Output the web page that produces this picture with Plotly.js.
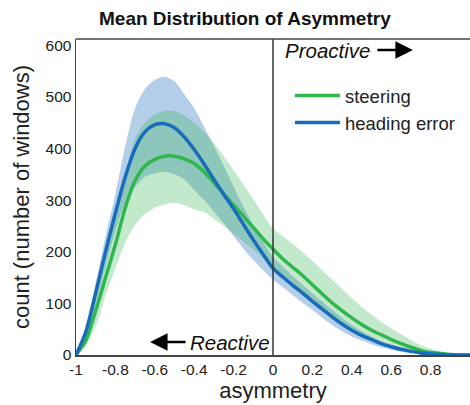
<!DOCTYPE html>
<html>
<head>
<meta charset="utf-8">
<script src="https://cdn.plot.ly/plotly-3.0.1.min.js"></script>
<style>html,body{margin:0;padding:0;background:#fff;}#chart{width:470px;height:405px;}</style>
</head>
<body>
<div id="chart"></div>
<script>
const asymmetry = [-1.00,-0.95,-0.90,-0.85,-0.80,-0.75,-0.70,-0.65,-0.60,-0.55,-0.50,-0.45,-0.40,-0.35,-0.30,-0.25,-0.20,-0.15,-0.10,-0.05,0.00,0.05,0.10,0.15,0.20,0.25,0.30,0.35,0.40,0.45,0.50,0.55,0.60,0.65,0.70,0.75,0.80,0.85,0.90,0.95,1.00];

const steeringMean  = [0,28,86,150,214,285,338,366,379,385,385,380,371,355,334,312,290,269,247,225,205,186,170,154,136,118,101,86,72,59,48,39,30,22,15,9,5,3,1,0,0];
const steeringUpper = [0,35,105,185,265,345,420,450,466,473,472,464,450,432,410,385,358,330,302,272,245,230,215,199,182,164,146,128,110,93,78,64,52,40,29,19,12,7,3,1,0];
const steeringLower = [0,18,55,115,168,218,252,273,285,292,295,290,282,277,264,250,235,220,204,187,170,152,137,123,106,89,73,59,47,37,28,21,15,10,6,3,1,0,0,0,0];

const headingMean  = [0,45,120,200,275,345,400,432,446,448,440,422,398,370,340,311,283,253,223,195,168,151,135,120,104,89,74,60,48,38,30,22,16,11,7,4,2,1,0,0,0];
const headingUpper = [0,55,140,230,312,405,478,515,533,539,530,505,478,442,405,366,326,287,251,219,190,171,153,136,119,103,87,72,58,46,36,27,20,14,9,5,3,1,0,0,0];
const headingLower = [0,35,100,170,240,295,325,345,352,355,350,340,320,300,278,255,230,206,184,164,146,131,116,101,87,72,58,46,36,28,21,15,10,6,4,2,1,0,0,0,0];

const xTicks = [-1,-0.8,-0.6,-0.4,-0.2,0,0.2,0.4,0.6,0.8,1];
const xTickText = ['-1','-0.8','-0.6','-0.4','-0.2','0','0.2','0.4','0.6','0.8','1'];
const yTicks = [0,100,200,300,400,500,600];

const FONT = 'Liberation Sans, Arial, Helvetica, sans-serif';
const BLUE = 'rgb(24,108,186)';
const GREEN = 'rgb(48,182,76)';
const BLUE_FILL = 'rgba(30,110,190,0.33)';
const GREEN_FILL = 'rgba(45,180,75,0.29)';

const traces = [
  {x: asymmetry, y: headingLower, mode: 'lines', line: {width: 0, shape: 'spline', smoothing: 0.8}, showlegend: false, hoverinfo: 'skip'},
  {x: asymmetry, y: headingUpper, mode: 'lines', line: {width: 0, shape: 'spline', smoothing: 0.8}, fill: 'tonexty', fillcolor: BLUE_FILL, showlegend: false, hoverinfo: 'skip'},
  {x: asymmetry, y: steeringLower, mode: 'lines', line: {width: 0, shape: 'spline', smoothing: 0.8}, showlegend: false, hoverinfo: 'skip'},
  {x: asymmetry, y: steeringUpper, mode: 'lines', line: {width: 0, shape: 'spline', smoothing: 0.8}, fill: 'tonexty', fillcolor: GREEN_FILL, showlegend: false, hoverinfo: 'skip'},
  {x: asymmetry, y: steeringMean, mode: 'lines', name: 'steering', line: {color: GREEN, width: 3.5, shape: 'spline', smoothing: 0.8}},
  {x: asymmetry, y: headingMean, mode: 'lines', name: 'heading error', line: {color: BLUE, width: 3.5, shape: 'spline', smoothing: 0.8}}
];

const layout = {
  width: 470, height: 405,
  margin: {l: 76, r: 0, t: 39, b: 50},
  paper_bgcolor: '#fff', plot_bgcolor: '#fff',
  font: {family: FONT, color: '#222', size: 15},
  title: {text: '<b>Mean Distribution of Asymmetry</b>', font: {family: FONT, size: 19, color: '#111'},
          xref: 'container', yref: 'container', x: 0.521, xanchor: 'center', y: 0.955, yanchor: 'middle'},
  xaxis: {range: [-1, 1], tickvals: xTicks, ticktext: xTickText, showgrid: false, zeroline: false,
          showline: true, linecolor: '#444', linewidth: 1.5, ticks: '', tickfont: {size: 15.5, color: '#222'},
          title: {text: 'asymmetry', font: {size: 22, color: '#222'}, standoff: 4}},
  yaxis: {range: [0, 612], tickvals: yTicks, showgrid: false, zeroline: false,
          showline: true, linecolor: '#444', linewidth: 1.5, ticks: '', tickfont: {size: 15.5, color: '#222'},
          title: {text: 'count (number of windows)', font: {size: 22, color: '#222'}, standoff: 10}},
  showlegend: true,
  legend: {x: 0.543, y: 0.88, xanchor: 'left', yanchor: 'top', bgcolor: 'rgba(0,0,0,0)', traceorder: 'normal',
           font: {size: 18.5, color: '#222'}, tracegroupgap: 0, itemwidth: 45},
  shapes: [
    {type: 'line', xref: 'x', yref: 'paper', x0: 0, x1: 0, y0: 0, y1: 1, line: {color: '#333', width: 1.5}},
    {type: 'line', xref: 'paper', yref: 'paper', x0: 0, x1: 1, y0: 1, y1: 1, line: {color: '#444', width: 1.5}}
  ],
  annotations: [
    {xref: 'paper', yref: 'paper', x: 0.525, y: 0.965, xanchor: 'left', yanchor: 'middle', text: '<i>Proactive</i>',
     showarrow: false, font: {size: 20.5, color: '#111'}},
    {xref: 'paper', yref: 'paper', x: 0.855, y: 0.965, text: '', showarrow: true, ax: -37, ay: 0,
     arrowhead: 2, arrowsize: 1.4, arrowwidth: 2.5, arrowcolor: '#000'},
    {xref: 'paper', yref: 'paper', x: 0.284, y: 0.041, xanchor: 'left', yanchor: 'middle', text: '<i>Reactive</i>',
     showarrow: false, font: {size: 20.5, color: '#111'}},
    {xref: 'paper', yref: 'paper', x: 0.188, y: 0.041, text: '', showarrow: true, ax: 37, ay: 0,
     arrowhead: 2, arrowsize: 1.4, arrowwidth: 2.5, arrowcolor: '#000'}
  ]
};

Plotly.newPlot('chart', traces, layout, {displayModeBar: false, staticPlot: true});
</script>
</body>
</html>
